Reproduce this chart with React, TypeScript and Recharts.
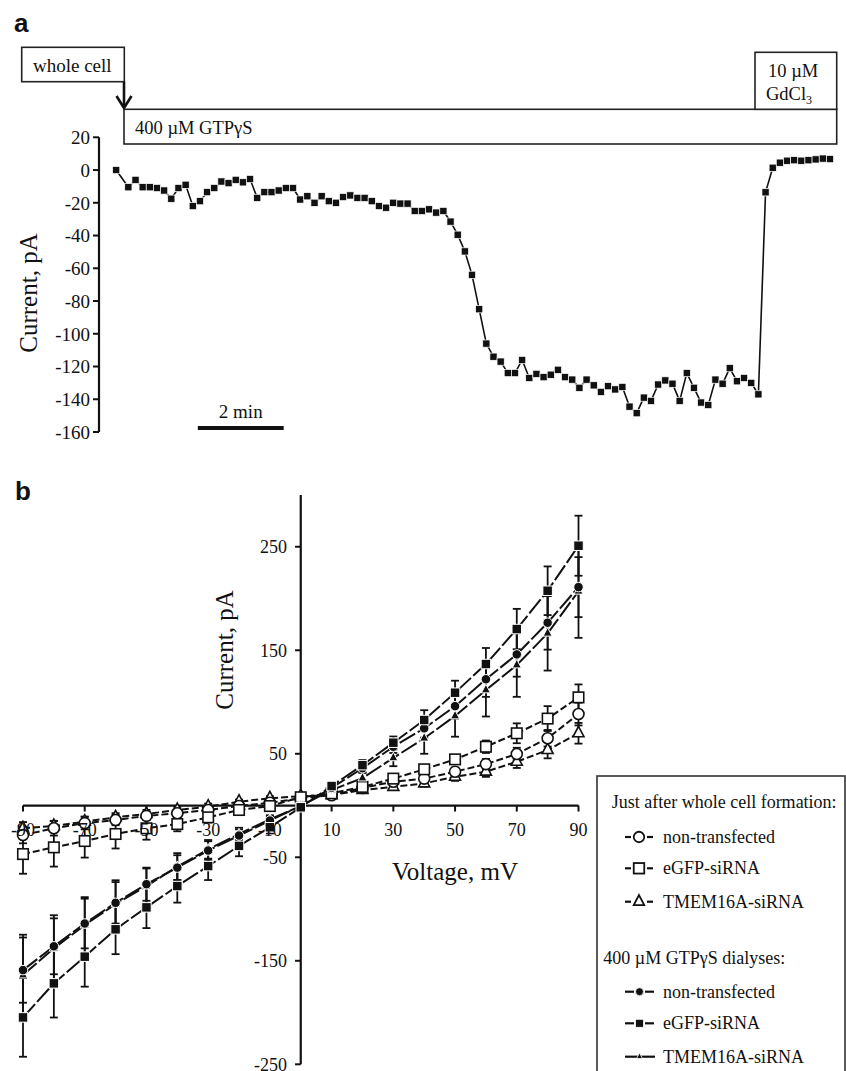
import React from 'react';
import { LineChart, Line, XAxis, YAxis, ReferenceLine, ErrorBar } from 'recharts';

const SERIF = '"Liberation Serif", "Times New Roman", Times, serif';
const SANS = '"Liberation Sans", Arial, Helvetica, sans-serif';

// ---------- Panel a: current vs time ----------
const timeSec = [
  0, 17, 27, 37, 47, 57, 67, 77, 87, 97,
  107, 117, 127, 137, 147, 157, 167, 177, 187, 197,
  207, 217, 227, 237, 247, 257, 267, 277, 287, 297,
  307, 317, 327, 337, 347, 357, 367, 377, 387, 397,
  407, 417, 427, 437, 447, 457, 467, 477, 487, 497,
  507, 517, 527, 537, 547, 557, 567, 577, 587, 597,
  607, 617, 627, 637, 647, 657, 667, 677, 687, 697,
  707, 717, 727, 737, 747, 757, 767, 777, 787, 797,
  807, 817, 827, 837, 847, 857, 867, 877, 887, 897,
  907, 917, 927, 937, 947, 957, 967, 977, 987, 997,
];
const currentPA = [
  0, -10.5, -6, -10.5, -10.5, -11, -12.5, -17.5, -11, -9,
  -22, -19, -13.5, -11, -7, -8, -6, -7.5, -5.5, -17,
  -13.5, -13.5, -12.5, -11, -11, -18, -16, -20, -16, -19,
  -20, -16.5, -15.5, -17, -17, -19, -22, -23, -20, -20.5,
  -20.5, -25, -25, -24, -26, -25, -31.5, -39.5, -49.7, -64,
  -85, -106, -114, -117, -124, -124, -116, -127, -124.5, -126.5,
  -125, -122, -126.5, -128, -133, -128, -131.5, -135.5, -132, -134,
  -132.5, -144.5, -148.5, -139, -141, -131, -128.5, -130.5, -141, -124,
  -133, -142, -143.5, -128, -130.5, -121, -129, -127, -130, -137,
  -13.6, 1.4, 4.5, 5.7, 6, 5.7, 6, 6.5, 7, 6.7,
];
const aYTicks = [20, 0, -20, -40, -60, -80, -100, -120, -140, -160];
const aYDomain = [-160, 20];
const aXDomain = [-24, 1010];
const scaleBarSec = [114, 234];
const scaleBarLevel = -157.5;
const scaleBarLabel = '2 min';

const traceData = timeSec.map((t, i) => ({ t, i: currentPA[i] }));

// ---------- Panel b: I-V relationships ----------
const voltages = [-90, -80, -70, -60, -50, -40, -30, -20, -10, 0, 10, 20, 30, 40, 50, 60, 70, 80, 90];

// Just after whole cell formation (open symbols)
const openNonTransfected = [-28.5, -22, -17, -14, -10, -7.5, -4.3, -0.5, 2.7, 7, 10, 17, 23, 26, 32.7, 40, 49.8, 65, 88.4];
const openNonTransfectedErr = [8, 7, 6, 5, 4, 3, 3, 2, 2, 2, 2, 2, 3, 3, 4, 5, 6, 8, 11];
const openEgfp = [-46.9, -40.4, -34.3, -27.5, -22, -17.9, -11.4, -4.3, -0.5, 8, 11.8, 18, 26, 35, 44.6, 56.8, 69.8, 84, 104.5];
const openEgfpErr = [19, 18.6, 16, 14, 11, 7, 5, 3, 2, 2, 2, 3, 3, 4, 4, 6, 9.6, 12, 12.5];
const openTmem = [-22, -19.8, -15.6, -11.4, -8.2, -4.3, -1.1, 3.7, 7, 9, 10, 15, 18, 21.4, 27.8, 32.7, 42.3, 53.6, 69.8];
const openTmemErr = [6, 5, 5, 4, 4, 3, 3, 2, 2, 2, 2, 2, 3, 3, 4, 5, 6, 8, 10];

// 400 uM GTPgammaS dialyses (filled symbols)
const gtpNonTransfected = [-159, -136, -114, -94, -76, -60, -43.5, -29, -14.5, -0.5, 17, 36, 56.8, 74.6, 96, 122, 146, 176.6, 211];
const gtpNonTransfectedErr = [31.5, 27, 24, 20, 16, 12, 9, 6, 4, 2, 3, 4, 6, 9, 12, 17, 21.5, 26, 29];
const gtpEgfp = [-204.7, -171.8, -146, -119.6, -98.4, -77.8, -58.5, -39, -21, -1.7, 18.8, 39, 60.7, 82.6, 109, 136.7, 170.5, 207.5, 251];
const gtpEgfpErr = [38, 33, 29, 24, 20, 16, 13.5, 10, 6, 3, 4, 5, 6, 9.5, 11.6, 15.5, 19.5, 23.5, 29];
const gtpTmem = [-163.8, -138, -115.5, -95.2, -77.8, -59, -42.3, -27.5, -13.4, -0.5, 15, 26.5, 46, 65, 86.5, 111.6, 135.7, 166.4, 207];
const gtpTmemErr = [39, 32, 27, 23, 17, 13, 9, 6, 4, 2, 3, 5, 8, 15, 20, 25.6, 30.7, 36, 45];

const bYTicks = [250, 150, 50, -50, -150, -250];
const bXTicks = [-90, -70, -50, -30, -10, 10, 30, 50, 70, 90];
const bYDomain = [-250, 300];
const bXDomain = [-90, 90];

const ivData = voltages.map((v, k) => ({
  v,
  oc: openNonTransfected[k], ocE: openNonTransfectedErr[k],
  os: openEgfp[k], osE: openEgfpErr[k],
  ot: openTmem[k], otE: openTmemErr[k],
  fc: gtpNonTransfected[k], fcE: gtpNonTransfectedErr[k],
  fs: gtpEgfp[k], fsE: gtpEgfpErr[k],
  ft: gtpTmem[k], ftE: gtpTmemErr[k],
}));

const legendTitles = ['Just after whole cell formation:', '400 \u00B5M GTP\u03B3S dialyses:'];
const legendNames = ['non-transfected', 'eGFP-siRNA', 'TMEM16A-siRNA'];

// ---------- marker shapes ----------
type Shape = 'circle' | 'square' | 'triangle';

function shapeEl(shape: Shape, cx: number, cy: number, size: number, fill: string, stroke: string, sw: number, key?: any) {
  if (shape === 'circle') {
    return <circle key={key} cx={cx} cy={cy} r={size / 2} fill={fill} stroke={stroke} strokeWidth={sw} />;
  }
  if (shape === 'square') {
    return <rect key={key} x={cx - size / 2} y={cy - size / 2} width={size} height={size} fill={fill} stroke={stroke} strokeWidth={sw} />;
  }
  const h = size * 0.95;
  const d = `M${cx},${cy - (h * 2) / 3} L${cx + size / 2},${cy + h / 3} L${cx - size / 2},${cy + h / 3} Z`;
  return <path key={key} d={d} fill={fill} stroke={stroke} strokeWidth={sw} strokeLinejoin="miter" />;
}

const makeDot = (shape: Shape, size: number, filled: boolean) => (props: any) => {
  const { cx, cy, index } = props;
  if (cx == null || cy == null) return <g key={`e${index}`} />;
  return filled
    ? shapeEl(shape, cx, cy, size, '#111', '#fff', 1, `d${index}`)
    : shapeEl(shape, cx, cy, size, '#fff', '#111', 1.6, `d${index}`);
};

const traceDot = (props: any) => {
  const { cx, cy, index } = props;
  if (cx == null || cy == null) return <g key={`e${index}`} />;
  return <rect key={`d${index}`} x={cx - 3.6} y={cy - 3.6} width={7.2} height={7.2} fill="#111" stroke="#fff" strokeWidth={0.7} />;
};

const tickLabelB = (value: string, position: 'left' | 'bottom', offset: number) => ({
  value,
  position,
  offset,
  fill: '#111',
  fontSize: 18,
  fontFamily: SERIF,
  style: { fontFamily: SERIF },
});

const OPEN_DASH = '7 3';
const FILLED_DASH = '18 3';
const Y_TICK_LEN = 1.85;
const X_TICK_LEN = 5.8;

function LegendSymbol({ x, y, shape, filled }: { x: number; y: number; shape: Shape; filled: boolean }) {
  if (filled) {
    const size = shape === 'triangle' ? 6 : 8;
    return (
      <g>
        {shape === 'triangle' ? (
          <line x1={x} y1={y} x2={x + 30} y2={y} stroke="#111" strokeWidth={2.2} />
        ) : (
          <>
            <line x1={x} y1={y} x2={x + 9} y2={y} stroke="#111" strokeWidth={2.2} />
            <line x1={x + 20} y1={y} x2={x + 29} y2={y} stroke="#111" strokeWidth={2.2} />
          </>
        )}
        {shapeEl(shape, x + 14.5, y, size, '#111', '#fff', 0.8)}
      </g>
    );
  }
  return (
    <g>
      <line x1={x} y1={y} x2={x + 6} y2={y} stroke="#111" strokeWidth={2.2} />
      <line x1={x + 22} y1={y} x2={x + 28} y2={y} stroke="#111" strokeWidth={2.2} />
      {shapeEl(shape, x + 14, y, 10.5, '#fff', '#111', 1.8)}
    </g>
  );
}

export default function App() {
  const shapes: Shape[] = ['circle', 'square', 'triangle'];
  return (
    <div style={{ position: 'absolute', left: 0, top: 0, width: 846, height: 1071, overflow: 'hidden', background: '#fff', fontFamily: SERIF }}>
      {/* Panel a */}
      <div style={{ position: 'absolute', left: 0, top: 0, fontFamily: SERIF }}>
        <LineChart width={846} height={450} data={traceData} margin={{ top: 137.3, right: 6.7, bottom: 18, left: 0 }} style={{ fontFamily: SERIF }}>
          <XAxis type="number" dataKey="t" domain={aXDomain} hide />
          <YAxis
            type="number"
            domain={aYDomain}
            ticks={aYTicks}
            interval={0}
            width={99}
            tickSize={6}
            tickMargin={3}
            axisLine={{ stroke: '#111', strokeWidth: 2.2 }}
            tickLine={{ stroke: '#111', strokeWidth: 2 }}
            tick={{ fill: '#111', fontSize: 19, fontFamily: SERIF, style: { fontFamily: SERIF } }}
          />
          <ReferenceLine
            segment={[{ x: scaleBarSec[0], y: scaleBarLevel }, { x: scaleBarSec[1], y: scaleBarLevel }]}
            stroke="#111"
            strokeWidth={4}
            label={{ value: scaleBarLabel, position: 'top', offset: 10, fill: '#111', fontSize: 19, fontFamily: SERIF, style: { fontFamily: SERIF } }}
          />
          <Line
            type="linear"
            dataKey="i"
            stroke="#111"
            strokeWidth={1.6}
            dot={traceDot}
            activeDot={false}
            isAnimationActive={false}
          />
        </LineChart>
      </div>

      {/* Panel b */}
      <div style={{ position: 'absolute', left: 0, top: 450, fontFamily: SERIF }}>
        <LineChart width={846} height={621} data={ivData} margin={{ top: 45, right: 267.5, bottom: 6.7, left: 23 }} style={{ fontFamily: SERIF }}>
          <XAxis type="number" dataKey="v" domain={bXDomain} hide />
          <YAxis type="number" domain={bYDomain} hide />
          <ReferenceLine x={0} stroke="#111" strokeWidth={2.2} />
          <ReferenceLine y={0} stroke="#111" strokeWidth={2.2} />
          {bYTicks.map((t) => (
            <ReferenceLine
              key={`yt${t}`}
              segment={[{ x: -Y_TICK_LEN, y: t }, { x: 0, y: t }]}
              stroke="#111"
              strokeWidth={2}
              label={tickLabelB(String(t), 'left', 8)}
            />
          ))}
          {bXTicks.map((t) => (
            <ReferenceLine
              key={`xt${t}`}
              segment={[{ x: t, y: 0 }, { x: t, y: -X_TICK_LEN }]}
              stroke="#111"
              strokeWidth={2}
              label={tickLabelB(String(t), 'bottom', 12)}
            />
          ))}

          <Line type="linear" dataKey="ot" stroke="#111" strokeWidth={2} strokeDasharray={OPEN_DASH} dot={makeDot('triangle', 11, false)} activeDot={false} isAnimationActive={false}>
            <ErrorBar dataKey="otE" direction="y" width={4} stroke="#111" strokeWidth={1.8} />
          </Line>
          <Line type="linear" dataKey="oc" stroke="#111" strokeWidth={2} strokeDasharray={OPEN_DASH} dot={makeDot('circle', 11, false)} activeDot={false} isAnimationActive={false}>
            <ErrorBar dataKey="ocE" direction="y" width={4} stroke="#111" strokeWidth={1.8} />
          </Line>
          <Line type="linear" dataKey="os" stroke="#111" strokeWidth={2} strokeDasharray={OPEN_DASH} dot={makeDot('square', 10.5, false)} activeDot={false} isAnimationActive={false}>
            <ErrorBar dataKey="osE" direction="y" width={4} stroke="#111" strokeWidth={1.8} />
          </Line>
          <Line type="linear" dataKey="ft" stroke="#111" strokeWidth={2} strokeDasharray={FILLED_DASH} dot={makeDot('triangle', 9, true)} activeDot={false} isAnimationActive={false}>
            <ErrorBar dataKey="ftE" direction="y" width={4} stroke="#111" strokeWidth={1.8} />
          </Line>
          <Line type="linear" dataKey="fc" stroke="#111" strokeWidth={2} strokeDasharray={FILLED_DASH} dot={makeDot('circle', 9.5, true)} activeDot={false} isAnimationActive={false}>
            <ErrorBar dataKey="fcE" direction="y" width={4} stroke="#111" strokeWidth={1.8} />
          </Line>
          <Line type="linear" dataKey="fs" stroke="#111" strokeWidth={2} strokeDasharray={FILLED_DASH} dot={makeDot('square', 9.5, true)} activeDot={false} isAnimationActive={false}>
            <ErrorBar dataKey="fsE" direction="y" width={4} stroke="#111" strokeWidth={1.8} />
          </Line>
        </LineChart>
      </div>

      {/* Annotations, axis titles and legend */}
      <svg width={846} height={1071} style={{ position: 'absolute', left: 0, top: 0, pointerEvents: 'none' }}>
        <text x={14} y={32} fontFamily={SANS} fontWeight="bold" fontSize={26} fill="#111">a</text>
        <text x={15} y={500} fontFamily={SANS} fontWeight="bold" fontSize={26} fill="#111">b</text>

        {/* whole cell box + arrow */}
        <rect x={21.7} y={47.3} width={102.6} height={34.4} fill="#fff" stroke="#222" strokeWidth={1.6} />
        <text x={33} y={72} fontFamily={SERIF} fontSize={19} fill="#111">whole cell</text>
        <line x1={124} y1={81.7} x2={124} y2={107} stroke="#111" strokeWidth={2.6} />
        <polyline points="116.5,96 124,108 131.5,96" fill="none" stroke="#111" strokeWidth={2.6} />

        {/* GTPgS box */}
        <rect x={124} y={109.3} width={712.7} height={34.7} fill="#fff" stroke="#222" strokeWidth={1.6} />
        <text x={135} y={133.5} fontFamily={SERIF} fontSize={18.5} fill="#111">400 {'\u00B5'}M GTP{'\u03B3'}S</text>

        {/* GdCl3 box */}
        <rect x={755} y={52.3} width={81.7} height={57} fill="#fff" stroke="#222" strokeWidth={1.6} />
        <text x={768} y={77} fontFamily={SERIF} fontSize={18.5} fill="#111">10 {'\u00B5'}M</text>
        <text x={766} y={100} fontFamily={SERIF} fontSize={18.5} fill="#111">
          GdCl<tspan fontSize={12} dy={4}>3</tspan>
        </text>

        {/* axis titles */}
        <text transform="translate(36.7,293) rotate(-90)" textAnchor="middle" fontFamily={SERIF} fontSize={25} fill="#111">Current, pA</text>
        <text transform="translate(233,650) rotate(-90)" textAnchor="middle" fontFamily={SERIF} fontSize={25} fill="#111">Current, pA</text>
        <text x={455} y={880} textAnchor="middle" fontFamily={SERIF} fontSize={25} fill="#111">Voltage, mV</text>

        {/* legend */}
        <rect x={597} y={776} width={248} height={320} fill="#fff" stroke="#333" strokeWidth={1.6} />
        <text x={611.7} y={808} fontFamily={SERIF} fontSize={18} fill="#111">{legendTitles[0]}</text>
        {legendNames.map((n, k) => {
          const cy = [837, 868.3, 901.7][k];
          return (
            <g key={`lo${k}`}>
              <LegendSymbol x={625} y={cy} shape={shapes[k]} filled={false} />
              <text x={663} y={cy + 6} fontFamily={SERIF} fontSize={18} fill="#111">{n}</text>
            </g>
          );
        })}
        <text x={603.3} y={964} fontFamily={SERIF} fontSize={18} fill="#111">{legendTitles[1]}</text>
        {legendNames.map((n, k) => {
          const cy = [991.7, 1023.3, 1056.7][k];
          return (
            <g key={`lf${k}`}>
              <LegendSymbol x={625} y={cy} shape={shapes[k]} filled={true} />
              <text x={663} y={cy + 6} fontFamily={SERIF} fontSize={18} fill="#111">{n}</text>
            </g>
          );
        })}
      </svg>
    </div>
  );
}
